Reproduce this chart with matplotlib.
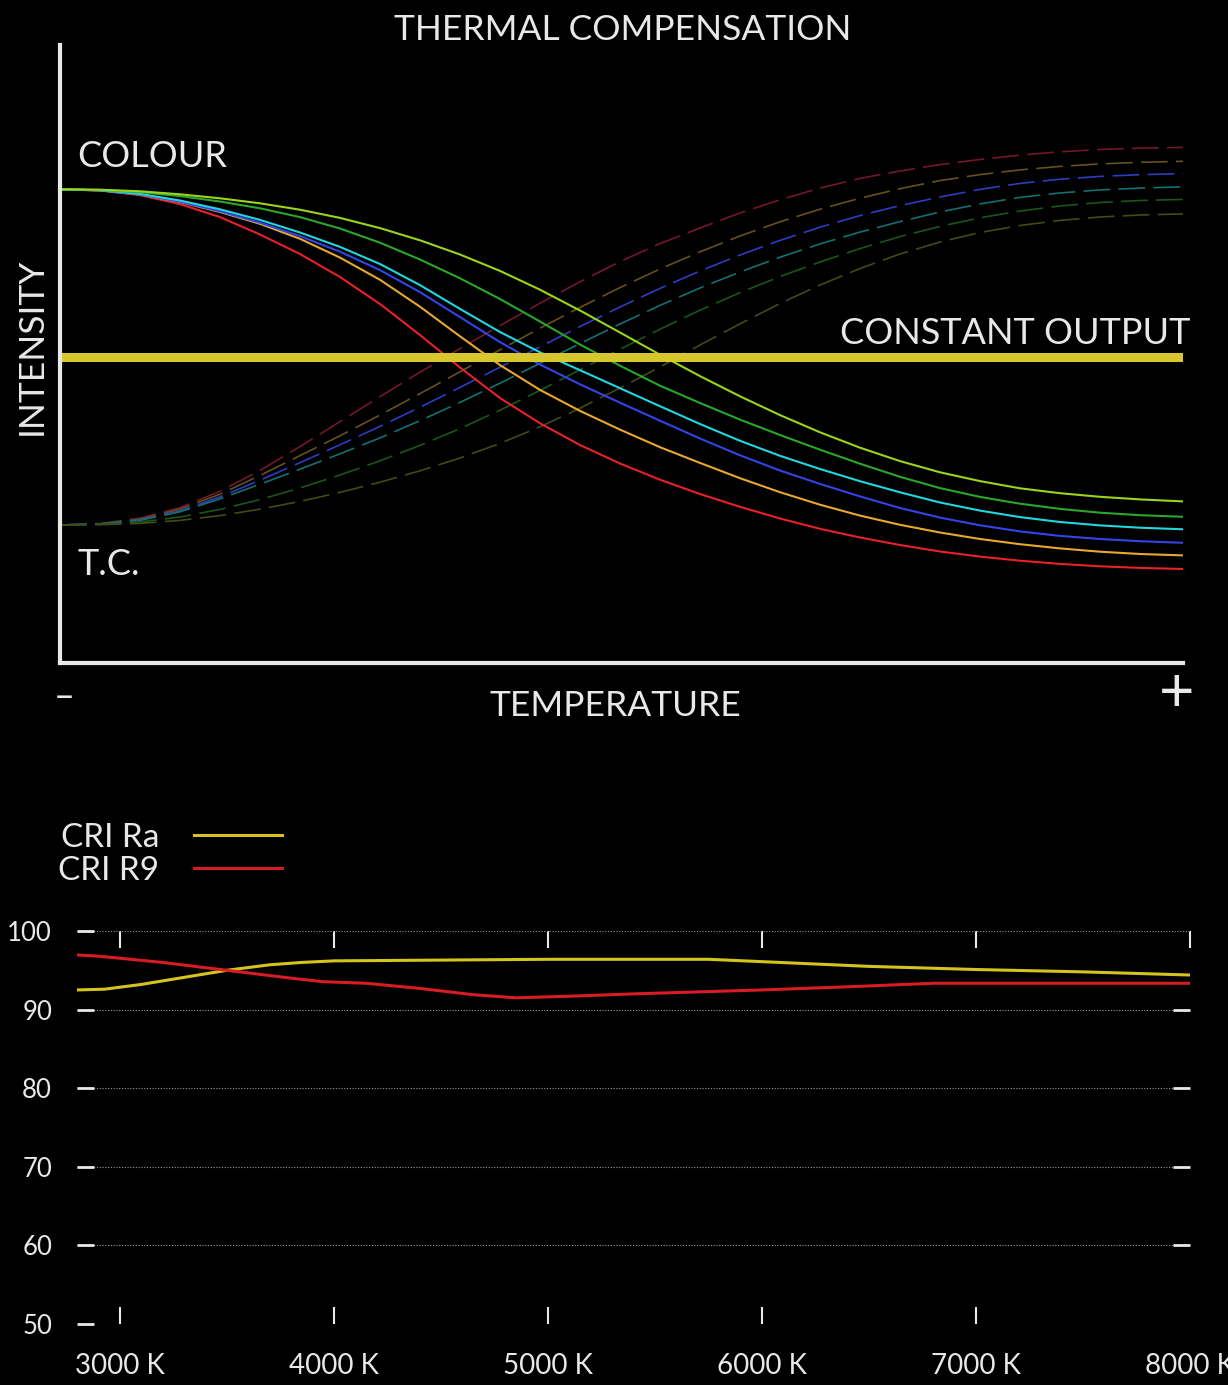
import matplotlib
matplotlib.use("Agg")
import matplotlib.pyplot as plt

plt.rcParams["font.family"] = ["Lato", "DejaVu Sans"]

# --- Gráfico superior: compensación térmica (unidades arbitrarias) ---
temp = [0, 40, 80, 120, 160, 200, 240, 280, 320, 360, 400, 440, 480, 520, 560,
        600, 640, 680, 720, 760, 800, 840, 880, 920, 960, 1000, 1040, 1080, 1123]

colour_red = [473.7, 472.5, 467.9, 458.9, 445.9, 428.5, 409, 386, 359, 328, 295.5, 265, 239.7, 218, 199.5,
              183.3, 169, 156.2, 144.5, 134.2, 125.5, 118, 111.5, 106.4, 102.3, 99.1, 96.7, 95.1, 94]
colour_orange = [473.7, 472.6, 468.5, 461, 451, 439.2, 424.2, 405.4, 383.2, 356.3, 326.7, 297.9, 273.1, 252.1, 233.4,
                 215.8, 200.1, 184.8, 170.8, 158.3, 147.4, 138.2, 130.5, 124, 118.8, 114.6, 111.3, 109, 107.6]
colour_blue = [473.7, 472.7, 468.7, 461.3, 451.7, 440.3, 426.9, 411.3, 392.9, 370.9, 345.9, 320.9, 298.5, 278.7, 260.3,
               242.3, 224.5, 207.7, 192.5, 179.1, 166.6, 155, 145.4, 137.7, 131.6, 127.1, 124, 121.8, 120.2]
colour_cyan = [473.7, 472.7, 469.1, 462.5, 453.7, 443.1, 430.5, 416.1, 399, 377.9, 354.1, 331, 310.7, 292.8, 274.8,
               256.8, 239, 222.2, 207.2, 194, 181.8, 170.7, 160.5, 152.4, 145.9, 141, 137.6, 135.3, 133.7]
colour_green = [473.7, 473.1, 470.9, 466.9, 461.5, 454.7, 445.9, 434.5, 420.3, 403.5, 384.7, 364, 341.5, 318.5, 297.3,
                277.3, 260, 243.4, 228, 213.3, 199.3, 186.2, 174.9, 166.1, 159.3, 154.1, 150.3, 147.8, 146.2]
colour_lime = [473.7, 473.3, 471.7, 468.7, 464.7, 459.7, 453.3, 445.1, 434.9, 422.7, 408.5, 392.1, 373.3, 352.5, 330.5,
               308.3, 286.9, 266.7, 247.9, 230.7, 215.3, 201.9, 190.7, 181.9, 174.7, 169.8, 166.2, 163.6, 161.6]

tc_red = [138, 139.4, 144.8, 155.4, 171.6, 192.6, 216.4, 241.4, 266.4, 290.8, 314.4, 337.4, 359.8, 381.2, 401.4,
          419.4, 435, 450, 463.2, 474.9, 484.6, 492, 498.4, 503.5, 507.9, 511.2, 513.5, 514.9, 515.6]
tc_orange = [138, 139.2, 143.8, 153.8, 168.8, 187.5, 207.4, 227.2, 248, 269.4, 291.2, 313.2, 334.8, 355.6, 375.4,
             394, 411.2, 427, 441.2, 453.8, 464.8, 474.3, 482.4, 488.4, 493.1, 496.6, 499.1, 500.7, 501.7]
tc_blue = [138, 139, 143, 152, 166.1, 182.8, 200.3, 218.2, 236.6, 255.8, 275.6, 295.8, 316.2, 336.4, 356,
           374.6, 392, 408, 422.6, 435.8, 447.4, 457.4, 466, 473.6, 479.6, 483.8, 486.6, 488.3, 489.4]
tc_teal = [138, 139, 142.7, 151.2, 164.1, 178.8, 193.8, 209.2, 225.1, 242.3, 260.6, 279.8, 299.7, 319.4, 339,
           357.6, 375, 391, 405.8, 419.1, 430.9, 441.4, 451, 459.1, 465.6, 470, 473.1, 474.9, 476.2]
tc_green = [138, 138.6, 141, 146, 153.6, 163.4, 175, 188, 202.2, 217.6, 234.4, 252.8, 272.6, 293.2, 313.8,
            333.8, 352.8, 370.4, 386.4, 401, 414.4, 426.4, 436.6, 445.2, 452, 457, 460.5, 462.5, 463.6]
tc_olive = [138, 138.3, 139.6, 142.6, 147.4, 153.8, 161.6, 170.6, 180.8, 192.2, 205, 219.6, 236.2, 254.8, 275,
            296, 318, 339.2, 359.5, 378, 394.5, 409, 421, 430.5, 437.5, 442.6, 446, 448, 449.1]
constant_output = 306

# --- Gráfico inferior: CRI ---
k_ra = [2800, 2930, 3100, 3300, 3500, 3700, 3850, 4000, 4500, 5000, 5400, 5750, 6000, 6500, 7000, 7500, 8000]
cri_ra = [92.5, 92.6, 93.2, 94.1, 95.0, 95.7, 96.0, 96.2, 96.3, 96.4, 96.4, 96.4, 96.1, 95.5, 95.1, 94.8, 94.4]
k_r9 = [2800, 2900, 3200, 3500, 3800, 3950, 4150, 4400, 4650, 4850, 5100, 5400, 6000, 6400, 6800, 7200, 8000]
cri_r9 = [96.95, 96.8, 96.0, 95.0, 94.0, 93.55, 93.35, 92.7, 91.9, 91.5, 91.7, 92.0, 92.5, 92.9, 93.35, 93.35, 93.35]
k_ticks = [3000, 4000, 5000, 6000, 7000, 8000]
cri_ticks = [50, 60, 70, 80, 90, 100]

W, H = 1228, 1385
fg = "#e8e8e8"
fig = plt.figure(figsize=(W / 100, H / 100), dpi=100, facecolor="black")


def fx(px):
    return px / W


def fy(py):
    return 1 - py / H


# arriba
ax = fig.add_axes([fx(60), fy(663), fx(1123), 618 / H])
ax.set_facecolor("black")
dashed = [(tc_red, "#74172a"), (tc_orange, "#64521e"), (tc_blue, "#2e3cc0"),
          (tc_teal, "#137070"), (tc_green, "#1a561a"), (tc_olive, "#424c12")]
solid = [(colour_red, "#e8202a"), (colour_orange, "#e8a830"), (colour_blue, "#3344e6"),
         (colour_cyan, "#22d6e0"), (colour_green, "#2aa62a"), (colour_lime, "#9ad41c")]
for vals, col in dashed:
    ax.plot(temp, vals, color=col, lw=1.2, dashes=(16, 5))
for vals, col in solid:
    ax.plot(temp, vals, color=col, lw=1.5)
ax.plot([temp[0], temp[-1]], [constant_output, constant_output], color="#d8c62e",
        lw=6.5, solid_capstyle="round")
ax.set_xlim(0, 1123)
ax.set_ylim(0, 618)
ax.set_xticks([])
ax.set_yticks([])
for s in ["top", "right"]:
    ax.spines[s].set_visible(False)
for s in ["left", "bottom"]:
    ax.spines[s].set_color(fg)
    ax.spines[s].set_linewidth(3)

fig.text(fx(623), fy(30), "THERMAL COMPENSATION", color=fg, fontsize=25.5,
         ha="center", va="center")
fig.text(fx(77), fy(167), "COLOUR", color=fg, fontsize=26, ha="left", va="baseline")
fig.text(fx(1190), fy(344), "CONSTANT OUTPUT", color=fg, fontsize=26,
         ha="right", va="baseline")
fig.text(fx(77), fy(575), "T.C.", color=fg, fontsize=26, ha="left", va="baseline")
fig.text(fx(32), fy(346), "INTENSITY", color=fg, fontsize=25.5,
         ha="center", va="center", rotation=90)
fig.text(fx(615), fy(706), "TEMPERATURE", color=fg, fontsize=25.5,
         ha="center", va="center")
fig.text(fx(64), fy(697), "–", color=fg, fontsize=26, ha="center", va="center")
fig.text(fx(1177), fy(694), "+", color=fg, fontsize=44, ha="center", va="center")

# abajo
bx = fig.add_axes([fx(77), fy(1324), fx(1113), 393 / H])
bx.set_facecolor("black")
l1, = bx.plot(k_ra, cri_ra, color="#d6c41e", lw=2.2, label="CRI Ra")
l2, = bx.plot(k_r9, cri_r9, color="#d81c24", lw=2.2, label="CRI R9")
bx.set_xlim(2800, 8000)
bx.set_ylim(50, 100)
for s in bx.spines.values():
    s.set_visible(False)
bx.set_yticks(cri_ticks)
bx.set_xticks(k_ticks)
bx.set_xticklabels([f"{k} K" for k in k_ticks])
bx.tick_params(axis="y", direction="in", length=12, width=2, color=fg,
               labelcolor=fg, labelsize=18.5, left=True, right=True, pad=18)
bx.tick_params(axis="x", direction="in", length=12, width=1.5, color=fg,
               labelcolor=fg, labelsize=20, top=True, bottom=True, pad=21)
# sin marcas en las esquinas derechas
bx.yaxis.get_major_ticks()[0].tick2line.set_visible(False)
bx.yaxis.get_major_ticks()[-1].tick2line.set_visible(False)
bx.xaxis.get_major_ticks()[-1].tick1line.set_visible(False)
bx.grid(axis="y", color="#9a9a9a", lw=0.8, linestyle=(0, (1, 1.5)))
bx.set_axisbelow(True)

fig.legend(handles=[l1, l2], loc="upper left", bbox_to_anchor=(fx(58), fy(823)),
           frameon=False, markerfirst=False, labelcolor=fg,
           handlelength=2.65, handletextpad=1.05, labelspacing=0.08,
           borderpad=0, borderaxespad=0, prop={"size": 24})

fig.savefig("out.png", dpi=100, facecolor="black")
